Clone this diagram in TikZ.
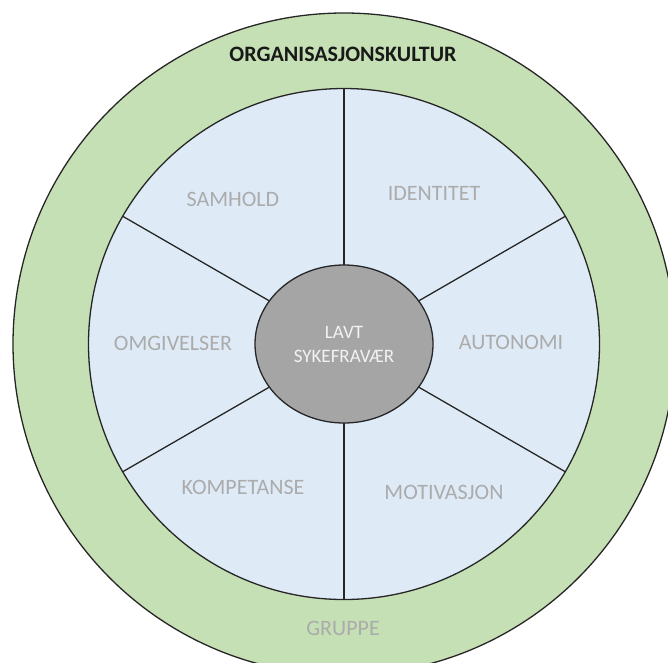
\documentclass[tikz,border=0pt]{standalone}
\usepackage{fontspec}
\setmainfont{Carlito}
\usetikzlibrary{shapes.geometric}

\definecolor{ringgreen}{HTML}{C5E0B4}
\definecolor{fieldblue}{HTML}{DEEBF7}
\definecolor{hubgray}{HTML}{A5A5A5}
\definecolor{labelgray}{HTML}{ABABAB}
\definecolor{hubtext}{HTML}{F2F2F2}

\pgfdeclarelayer{back}
\pgfsetlayers{back,main}

\tikzset{
  disc/.style={circle, draw=black!85, line width=1.3pt, inner sep=0pt, outer sep=0pt},
  hubshape/.style={ellipse, draw=black!85, line width=1.3pt, fill=hubgray,
    minimum width=178pt, minimum height=158pt, inner sep=0pt, outer sep=0pt,
    text=hubtext, align=center, font=\fontsize{19}{24}\selectfont},
  spoke/.style={draw=black!85, line width=1.3pt},
  field/.style={text=labelgray, font=\fontsize{22}{26}\selectfont, inner sep=0pt},
  title/.style={text=black!90, font=\bfseries\fontsize{22}{26}\selectfont, inner sep=0pt}
}

\begin{document}
\begin{tikzpicture}[x=1pt, y=-1pt]
  \useasboundingbox (0,0) rectangle (668,662);
  \clip (0,0) rectangle (668,662);

  % hub in the middle
  \node[hubshape] (hub) at (344,344) {LAVT\\SYKEFRAVÆR};

  \begin{pgfonlayer}{back}
    % outer culture ring and inner group field
    \node[disc, fill=ringgreen, minimum size=662pt] (ring) at (344,344) {};
    \node[disc, fill=fieldblue, minimum size=511pt] (field) at (344,344) {};
    % six spokes dividing the field, running under the hub
    \foreach \a in {30,90,150,210,270,330}
      \draw[spoke] (hub.\a) -- (field.\a);
  \end{pgfonlayer}

  % labels
  \node[title] (culture) at (343,54) {ORGANISASJONSKULTUR};
  \node[field] (group) at (343,628) {GRUPPE};
  \node[field] (samhold) at (233,199) {SAMHOLD};
  \node[field] (identitet) at (434,193) {IDENTITET};
  \node[field] (omgivelser) at (173,343) {OMGIVELSER};
  \node[field] (autonomi) at (511,342) {AUTONOMI};
  \node[field] (kompetanse) at (243,487) {KOMPETANSE};
  \node[field] (motivasjon) at (444,492) {MOTIVASJON};
\end{tikzpicture}
\end{document}
